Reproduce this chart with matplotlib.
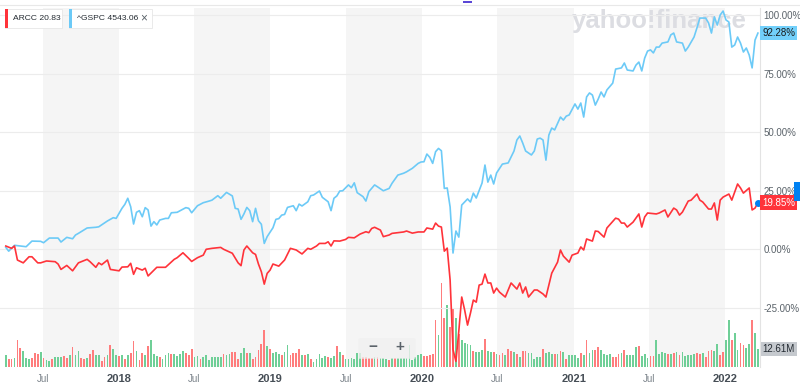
import numpy as np
import pandas as pd
import matplotlib
matplotlib.use("Agg")
import matplotlib.pyplot as plt
import matplotlib.transforms as mtransforms
from matplotlib.patches import Rectangle, FancyBboxPatch

# weekly closes, as % change since the week of 2017-04-03 (week index -> value)
start = pd.Timestamp("2017-04-03")

gspc_weeks = [0, 1, 3, 7, 9, 12, 13, 15, 18, 19, 21, 23, 24, 25, 28, 31, 32, 35, 37, 38,
              40, 41, 42, 43, 44, 45, 46, 47, 48, 49, 50, 51, 52, 53, 55, 56, 57, 59, 62, 63,
              64, 66, 68, 70, 71, 73, 74, 76, 78, 79, 80, 81, 82, 83, 84, 85, 86, 87, 88, 89,
              90, 92, 93, 94, 95, 96, 97, 99, 100, 101, 102, 104, 105, 106, 108, 109, 111, 112, 113, 114,
              115, 116, 118, 119, 120, 121, 123, 124, 125, 127, 128, 130, 132, 133, 135, 137, 138, 140, 142, 143,
              144, 145, 146, 147, 148, 149, 150, 151, 152, 153, 154, 155, 156, 157, 159, 160, 161, 162, 164, 165,
              166, 167, 168, 169, 171, 173, 175, 176, 177, 178, 179, 181, 182, 183, 184, 185, 186, 187, 188, 189,
              191, 192, 193, 194, 196, 197, 198, 199, 200, 201, 202, 203, 204, 205, 206, 207, 209, 210, 212, 213,
              214, 216, 217, 218, 219, 220, 221, 222, 223, 224, 225, 226, 228, 229, 230, 231, 233, 234, 235, 237,
              238, 239, 241, 242, 243, 244, 245, 246, 247, 248, 249, 250, 251, 252, 253, 254, 255, 256, 257, 258,
              259]
gspc_pct = [0.7, -0.9, 1.6, 1.0, 3.4, 3.3, 2.7, 4.7, 4.7, 3.0, 5.0, 4.4, 6.0, 6.7, 9.0, 9.3, 9.5, 12.0, 13.4, 13.1,
            17.4, 19.1, 21.7, 18.1, 10.7, 15.7, 16.4, 13.8, 17.7, 16.7, 9.8, 11.7, 10.3, 12.4, 13.1, 13.1, 15.5, 15.7, 17.7, 17.4,
            15.5, 18.5, 19.8, 20.5, 20.9, 22.8, 21.7, 24.2, 22.7, 17.4, 17.1, 12.7, 15.0, 17.8, 16.4, 11.7, 17.4, 12.1, 10.6, 2.4,
            5.3, 9.1, 12.7, 13.0, 14.5, 14.8, 17.8, 18.5, 16.4, 19.2, 18.4, 20.2, 22.8, 23.1, 24.8, 22.1, 20.2, 16.4, 21.7, 22.7,
            24.8, 24.9, 27.4, 26.2, 28.3, 24.1, 22.4, 20.5, 24.5, 27.4, 26.6, 24.9, 25.9, 28.1, 31.6, 32.4, 33.0, 34.5, 36.6, 37.2,
            37.3, 40.6, 39.2, 36.6, 41.6, 43.0, 42.0, 25.9, 26.1, 18.0, -1.7, 7.7, 5.1, 18.8, 21.4, 20.1, 23.9, 21.8, 28.2, 35.9,
            28.6, 31.6, 27.8, 32.5, 36.3, 36.8, 41.9, 46.6, 48.3, 45.3, 41.9, 40.2, 41.9, 47.0, 47.4, 46.6, 38.0, 48.7, 51.7, 50.9,
            56.4, 55.1, 56.8, 57.3, 62.0, 59.8, 62.4, 56.4, 65.0, 66.7, 65.8, 61.5, 64.1, 67.1, 65.0, 68.0, 70.9, 76.9, 77.4, 79.5,
            76.5, 76.1, 78.6, 79.9, 76.1, 81.6, 84.6, 85.1, 83.8, 86.3, 86.3, 88.0, 88.5, 91.5, 92.3, 88.5, 88.0, 84.6, 86.3, 90.6,
            94.5, 98.7, 98.7, 96.6, 92.3, 99.2, 95.7, 100.0, 101.7, 97.9, 97.0, 86.3, 87.2, 90.6, 88.0, 84.2, 85.9, 82.9, 77.4, 89.3,
            92.28]

arcc_weeks = [0, 2, 3, 4, 6, 8, 9, 11, 12, 14, 17, 18, 19, 21, 23, 25, 28, 29, 31, 32,
              33, 35, 36, 39, 40, 42, 43, 44, 45, 47, 48, 49, 51, 52, 55, 58, 59, 61, 63, 64,
              66, 68, 69, 71, 74, 75, 78, 80, 81, 82, 83, 85, 86, 87, 88, 89, 90, 91, 92, 94,
              96, 98, 100, 102, 104, 105, 107, 108, 110, 111, 112, 113, 115, 117, 118, 120, 122, 124, 125, 126,
              127, 129, 130, 132, 133, 135, 137, 138, 140, 142, 144, 145, 147, 148, 149, 150, 151, 152, 153, 154,
              155, 156, 157, 158, 159, 160, 161, 162, 163, 164, 165, 166, 167, 168, 169, 170, 172, 174, 176, 177,
              178, 179, 180, 182, 183, 185, 186, 188, 190, 191, 192, 194, 195, 197, 198, 199, 200, 202, 203, 204,
              206, 207, 210, 211, 212, 213, 214, 216, 218, 219, 220, 221, 224, 225, 227, 228, 230, 231, 232, 233,
              235, 236, 238, 239, 240, 242, 243, 244, 245, 246, 247, 249, 250, 252, 253, 254, 256, 257, 258, 259]
arcc_pct = [1.3, 0.3, 1.3, -4.7, -5.9, -3.3, -3.3, -5.9, -5.9, -5.1, -5.4, -6.4, -8.7, -7.0, -9.3, -5.9, -4.4, -5.4, -7.8, -5.9,
            -6.7, -4.7, -8.7, -9.3, -7.7, -7.6, -6.1, -10.8, -8.0, -9.0, -8.2, -11.5, -9.0, -7.8, -7.8, -4.4, -3.7, -1.6, -4.0, -5.3,
            -3.7, -2.6, -0.1, 0.3, 0.7, -0.1, -1.8, -5.9, -7.1, -0.4, 1.3, -1.6, -2.3, -6.4, -9.7, -15.0, -10.4, -9.0, -6.4, -7.3,
            -4.7, 0.3, -0.4, -2.1, 0.3, -0.1, 1.3, 2.4, 2.4, 3.1, 1.3, 3.5, 3.4, 4.1, 5.0, 4.8, 6.4, 7.4, 7.0, 8.8,
            9.3, 8.1, 5.3, 6.0, 6.7, 7.0, 7.3, 7.7, 6.8, 7.3, 7.3, 9.0, 8.5, 11.1, 9.8, 9.4, -0.9, 0.4, -13.2, -43.0,
            -48.0, -35.0, -20.5, -26.0, -32.5, -27.4, -21.8, -22.7, -15.4, -15.0, -10.7, -14.5, -14.5, -18.8, -16.7, -18.4, -20.5, -14.5, -17.1, -14.5,
            -18.8, -16.2, -20.5, -17.5, -17.5, -19.2, -20.5, -10.3, -5.6, -0.4, -3.0, -5.6, -2.6, -1.7, 0.9, -0.4, 4.3, 3.4, 7.7, 7.5,
            5.1, 9.0, 13.2, 12.8, 11.1, 11.1, 9.4, 11.5, 15.0, 9.4, 13.7, 15.4, 15.0, 15.4, 16.7, 13.7, 17.5, 16.7, 14.5, 15.8,
            20.5, 20.9, 23.5, 20.9, 20.1, 17.1, 17.1, 19.7, 12.4, 20.9, 22.2, 23.5, 20.9, 27.8, 26.1, 23.9, 26.1, 16.7, 17.5, 19.85]

# ARCC weekly volume (millions), one bar per week from week 0; G = up week, R = down week
vol_m = [8.6, 5.4, 5.6, 6.1, 19.1, 13.5, 11.0, 6.5, 5.4, 6.5,
         10.0, 9.3, 10.3, 6.3, 5.1, 4.4, 5.4, 7.0, 7.2, 7.0,
         7.5, 6.3, 8.6, 14.0, 8.2, 11.2, 6.1, 5.8, 6.1, 8.9,
         11.7, 8.2, 8.2, 4.0, 7.0, 8.4, 15.4, 12.4, 8.6, 7.7,
         8.2, 5.4, 8.6, 10.0, 18.0, 11.0, 5.1, 10.0, 8.4, 14.7,
         18.7, 8.9, 7.5, 7.0, 5.8, 8.4, 10.0, 9.1, 8.9, 7.5,
         8.9, 11.2, 9.8, 8.6, 12.6, 7.0, 7.5, 5.6, 7.0, 8.6,
         4.7, 6.8, 6.8, 7.0, 6.8, 9.1, 8.2, 9.1, 10.3, 10.3,
         5.8, 9.8, 13.5, 9.8, 10.0, 5.6, 6.8, 11.7, 15.9, 26.1,
         14.5, 12.4, 10.0, 10.5, 9.3, 8.6, 10.3, 15.4, 8.4, 10.0,
         9.8, 12.4, 8.4, 8.6, 9.3, 5.4, 3.7, 5.4, 8.9, 6.3,
         7.7, 7.0, 6.5, 7.9, 14.5, 10.3, 8.2, 5.4, 5.4, 6.3,
         5.8, 10.0, 10.0, 7.0, 7.0, 6.5, 6.5, 7.0, 7.0, 6.1,
         6.5, 5.4, 4.9, 6.5, 6.5, 6.3,
         6.5, 6.5, 6.5, 15.2, 5.1, 7.0, 8.2, 9.3, 7.9, 7.9, 8.2, 9.3,
         32.7, 22.2, 58.6, 34.1, 43.2, 27.8, 41.1, 34.1,
         23.3, 18.7, 16.8, 16.3, 15.2, 11.2, 10.3, 10.5, 12.1, 19.4,
         11.0, 10.5, 10.5, 9.3, 8.2, 10.0, 8.2, 12.4, 11.2, 10.5,
         9.3, 7.0, 11.0, 11.0, 10.0, 10.0, 5.4, 7.0, 7.0, 12.8,
         9.8, 10.5, 9.3, 9.3, 8.9, 11.0, 10.5, 5.4, 8.2, 8.2,
         8.2, 6.5, 9.8, 8.2, 19.1, 10.0, 12.1, 11.7, 14.0, 12.1,
         9.3, 8.6, 9.3, 7.0, 7.0, 9.3, 9.8, 11.7, 8.4, 8.4,
         8.2, 14.0, 14.5, 7.9, 9.3, 6.5, 7.7, 7.7, 19.1, 9.3,
         10.3, 9.8, 9.3, 8.9, 9.8, 10.3, 8.2, 10.5, 7.7, 8.6,
         8.4, 9.3, 9.8, 8.9, 10.0, 7.0, 11.2, 11.7, 11.2, 16.3,
         8.6, 10.3, 19.1, 32.7, 18.7, 23.8, 11.7, 17.0, 15.2, 13.5,
         15.9, 32.7, 23.8, 12.61]
vol_dir = ("GRRGRRGGGR" "RRGRGGRGGG" "RRGRGGRRGR" "RGGRRGRGGR" "GRGRRGRRGR"
           "GGGRGGGRGG" "GGRRRGGRGG" "GGGGGRGGRR" "RGGRGRRRRR" "GRGGGRGGRR"
           "RRGRGRGGGG" "GRGGRGRGGG" "GGGRRRRGRG" "GGRGRG"
           "GGGGGGGGRRRR" "RGRRGRRG"
           "RGGGGRGGGR" "GGRGRRGRRG" "RGRRGGGGGR" "GGGRGRGRGG" "GGRGRGGRRG"
           "GGGRRRGRGG" "GGRGGGRRGG" "GGRGRGRGGG" "GGRRGRRRGG" "RRGGRGGRRG" "GRGG")

ticks = [pd.Timestamp(f"{y}-{m:02d}-01") for y in range(2017, 2023) for m in (1, 7)]
ticks = [t for t in ticks if pd.Timestamp("2017-05-01") < t < pd.Timestamp("2022-03-01")]
tick_labels = ["Jul" if t.month == 7 else str(t.year) for t in ticks]


def main():
    plt.rcParams["font.family"] = ["Liberation Sans", "DejaVu Sans"]
    W, H = 800, 391
    fig = plt.figure(figsize=(W / 100, H / 100), dpi=100)
    fig.patch.set_facecolor("white")

    def fx(px):
        return px / W

    def fy(py):
        return 1 - py / H

    pos = [0, fy(367), fx(760), (367 - 8) / H]
    ax_bg = fig.add_axes(pos)
    ax = fig.add_axes(pos, sharex=ax_bg, facecolor="none")

    gspc_dates = start + pd.to_timedelta(np.array(gspc_weeks) * 7, unit="D")
    arcc_dates = start + pd.to_timedelta(np.array(arcc_weeks) * 7, unit="D")
    vol_dates = start + pd.to_timedelta(np.arange(len(vol_m)) * 7, unit="D")

    x_left = start - pd.Timedelta(days=14)
    x_right = start + pd.Timedelta(days=1818)

    # background: alternating half-year bands
    for y in range(2017, 2022):
        ax_bg.axvspan(pd.Timestamp(f"{y}-07-01"), pd.Timestamp(f"{y + 1}-01-01"),
                      color="#f5f5f5", lw=0, zorder=0)
    for lvl in [100, 75, 50, 25, 0, -25]:
        ax.axhline(lvl, color="#ececec", lw=0.8, zorder=0.5)

    # volume bars
    n = min(len(vol_m), len(vol_dir))
    cols = ["#6fcf97" if c == "G" else "#ff7d7d" for c in vol_dir[:n]]
    ax_bg.bar(vol_dates[:n], vol_m[:n], width=4.2, color=cols, lw=0, zorder=2)
    ax_bg.set_ylim(0, 359 * 12.61 / 18)
    ax_bg.set_yticks([])
    for s in ax_bg.spines.values():
        s.set_visible(False)
    ax_bg.tick_params(axis="x", length=0, labelbottom=False)

    # watermark
    ax_bg.text(fx(572), fy(21), "yahoo!finance", transform=fig.transFigure,
               fontsize=18.5, fontweight="bold", color="#dcdde2", va="center",
               ha="left", zorder=1)

    ax.plot(gspc_dates, gspc_pct, color="#6ccaf7", lw=1.2, zorder=3)
    ax.plot(arcc_dates, arcc_pct, color="#ff333a", lw=1.2, zorder=4)
    ax.plot(arcc_dates[-1:], arcc_pct[-1:], "o", color="#0081f2", ms=4, zorder=5)

    ax.set_xlim(x_left, x_right)
    ax.set_ylim(-50.4, 103.0)
    ax.yaxis.tick_right()
    ax.set_yticks([100, 75, 50, 25, 0, -25])
    ax.set_yticklabels([f"{v:.2f}%" for v in [100, 75, 50, 25, 0, -25]])
    ax.tick_params(axis="y", length=0, pad=2.5, labelsize=7.0, labelcolor="#5b636a")
    ax.set_xticks(ticks)
    ax.set_xticklabels(tick_labels)
    ax.tick_params(axis="x", length=0, pad=5, labelsize=7, labelcolor="#7b838a")
    for lab in ax.get_xticklabels():
        if lab.get_text() != "Jul":
            lab.set_fontweight("bold")
            lab.set_color("#464e56")
            lab.set_fontsize(8)
    for k in ["top", "left", "bottom"]:
        ax.spines[k].set_visible(False)
    ax.spines["right"].set_color("#e3e3e3")
    ax.spines["right"].set_linewidth(0.8)

    # top border line
    fig.add_artist(plt.Line2D([0, 1], [fy(4.5), fy(4.5)], color="#e8e8e8", lw=0.8))

    # value tags on the right
    tr = mtransforms.blended_transform_factory(ax.transAxes, ax.transData)
    ax.text(1.003, gspc_pct[-1], f"{gspc_pct[-1]:.2f}%", transform=tr, fontsize=7.0,
            color="#1a1a1a", va="center", ha="left", clip_on=False, zorder=6,
            bbox=dict(boxstyle="square,pad=0.22", fc="#72d0fb", ec="none"))
    ax.text(1.003, arcc_pct[-1], f"{arcc_pct[-1]:.2f}%", transform=tr, fontsize=7.0,
            color="white", va="center", ha="left", clip_on=False, zorder=6,
            bbox=dict(boxstyle="square,pad=0.22", fc="#ff333a", ec="none"))
    trv = mtransforms.blended_transform_factory(ax_bg.transAxes, ax_bg.transData)
    ax_bg.text(1.003, vol_m[-1], f"{vol_m[-1]:.2f}M", transform=trv, fontsize=7.0,
               color="#232a31", va="center", ha="left", clip_on=False, zorder=6,
               bbox=dict(boxstyle="square,pad=0.22", fc="#c5c9ce", ec="none"))
    fig.add_artist(Rectangle((fx(794), fy(201)), fx(6), 19 / H,
                             transform=fig.transFigure, color="#0081f2", lw=0))

    # zoom control
    fig.add_artist(FancyBboxPatch((fx(360), fy(358)), fx(54), 19 / H,
                                  boxstyle="round,pad=0.002", transform=fig.transFigure,
                                  fc="#f0f0f0", ec="none", alpha=0.8))
    fig.text(fx(373), fy(347), "\u2212", fontsize=11, fontweight="bold",
             color="#5b636a", ha="center", va="center")
    fig.text(fx(400), fy(347), "+", fontsize=11, fontweight="bold",
             color="#5b636a", ha="center", va="center")

    # legend chips
    chips = [(5, 62, "#ff333a", "ARCC", "20.83"), (69, 152, "#6ccaf7", "^GSPC", "4543.06")]
    for x0, x1, c, name, val in chips:
        fig.add_artist(Rectangle((fx(x0), fy(28)), fx(x1 - x0), 19 / H,
                                 transform=fig.transFigure, fc="white", ec="#e6e6e6", lw=0.6))
        fig.add_artist(Rectangle((fx(x0), fy(28)), fx(3), 19 / H,
                                 transform=fig.transFigure, fc=c, ec="none"))
        fig.text(fx(x0 + 8), fy(18.5), f"{name} {val}", fontsize=6.1,
                 color="#232a31", va="center", ha="left")
    fig.text(fx(144), fy(18.5), "\u00d7", fontsize=8.5, color="#5b636a",
             va="center", ha="center")

    # purple marker at top
    fig.add_artist(Rectangle((fx(463), fy(3)), fx(9), 2 / H,
                             transform=fig.transFigure, color="#5b47d6", lw=0))

    fig.savefig("out.png", dpi=100)


if __name__ == "__main__":
    main()
